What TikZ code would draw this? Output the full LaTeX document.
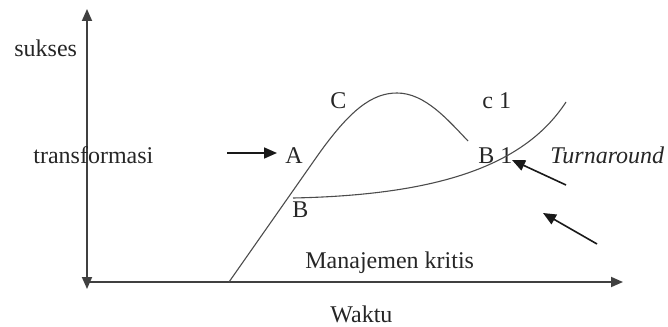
\documentclass[tikz,border=0pt]{standalone}
\usepackage{fontspec}
\setmainfont{Liberation Serif}
\usetikzlibrary{arrows.meta,positioning}

\begin{document}
\begin{tikzpicture}[x=0.5pt,y=-0.5pt,font=\fontsize{12}{14}\selectfont,
  lbl/.style={inner sep=0pt,anchor=base west,text=black!85},
  axis/.style={line width=0.9pt,black!75},
  curve/.style={line width=0.55pt,black!70},
  pointer/.style={line width=0.8pt,black!90,-{Triangle[length=6.5pt,width=5.5pt]}}]
  \useasboundingbox (0,0) rectangle (668,326);
  % axes
  \coordinate (ytop) at (87,9);
  \coordinate (ybot) at (87,289);
  \coordinate (O) at (87,282);
  \coordinate (xend) at (623,282);
  \draw[axis,{Triangle[length=6pt,width=5pt]}-{Triangle[length=6pt,width=5pt]}] (ybot) -- (ytop);
  \draw[axis,-{Triangle[length=6pt,width=5pt]}] (O) -- (xend);
  % labels
  \node[lbl] (sukses) at (14,57) {sukses};
  \node[lbl] (trans) at (33,163) {transformasi};
  \node[lbl] (A) at (285,163) {A};
  \node[lbl] (B) at (292,217) {B};
  \node[lbl] (C) at (330,109) {C};
  \node[lbl] (c1) at (482,109) {c 1};
  \node[lbl] (B1) at (478,163) {B 1};
  \node[lbl] (turn) at (550,163) {\itshape Turnaround};
  \node[lbl] (kritis) at (305,268) {Manajemen kritis};
  \node[lbl] (waktu) at (330,322) {Waktu};
  % curves
  \draw[curve] (229,282) -- (318,155) .. controls (350,110) and (372,93) .. (397,93)
    .. controls (425,93) and (448,120) .. (468,141);
  \draw[curve] (293,198) .. controls (440,195) and (525,165) .. (566,102);
  % arrows
  \coordinate (tailA) at (227,153);
  \coordinate (tipA) at (277,153);
  \draw[pointer] (tailA) -- (tipA);
  \coordinate (tailT) at (566,185);
  \coordinate (tipT) at (512,160);
  \draw[pointer] (tailT) -- (tipT);
  \coordinate (tailM) at (597,244);
  \coordinate (tipM) at (543,213);
  \draw[pointer] (tailM) -- (tipM);
\end{tikzpicture}
\end{document}
